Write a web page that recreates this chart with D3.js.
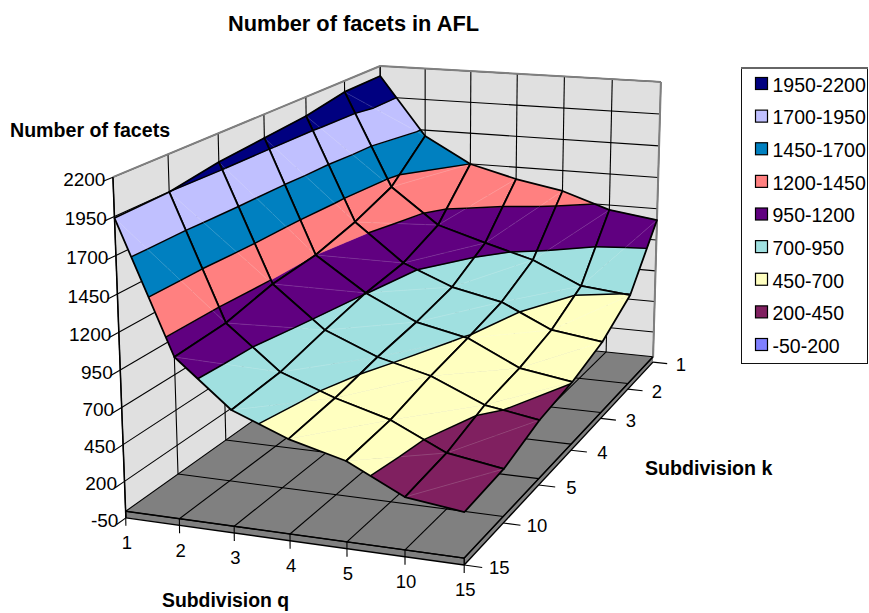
<!DOCTYPE html>
<html>
<head>
<meta charset="utf-8">
<script src="https://cdn.jsdelivr.net/npm/d3@7"></script>
<style>
  body { margin: 0; background: #fff; }
  text { font-family: "Liberation Sans", Arial, sans-serif; fill: #000; }
</style>
</head>
<body>
<div id="chartVis"></div>
<script>
// data, one array per q subdivision, values running k = 1 ... 15
const qLabels = ["1", "2", "3", "4", "5", "10", "15"];
const kLabels = ["1", "2", "3", "4", "5", "10", "15"];
const facetsQ1 = [2119, 2113, 2056, 2029, 2001, 1949, 1940];
const facetsQ2 = [1652, 1388, 1276, 1200, 1173, 1096, 1076];
const facetsQ3 = [1449, 1115, 993, 953, 881, 799, 770];
const facetsQ4 = [1354, 1004, 842, 774, 728, 663, 624];
const facetsQ5 = [1285, 902, 763, 694, 634, 557, 527];
const facetsQ10 = [1161, 731, 587, 513, 471, 378, 341];
const facetsQ15 = [1110, 695, 534, 452, 409, 317, 294];
const facets = [facetsQ1, facetsQ2, facetsQ3, facetsQ4, facetsQ5, facetsQ10, facetsQ15];

const valueTicks = [-50, 200, 450, 700, 950, 1200, 1450, 1700, 1950, 2200];
const bandColors = ["#8080ff", "#802060", "#ffffc0", "#a0e0e0", "#600080", "#ff8080", "#0080c0", "#c0c0ff", "#000080"];

const width = 869;
const height = 613;

// scales to the unit box
const uScale = d3.scalePoint().domain(d3.range(qLabels.length)).range([0, 1]);
const vScale = d3.scalePoint().domain(d3.range(kLabels.length)).range([0, 1]);
const wScale = d3.scaleLinear().domain([-50, 2200]).range([0, 1]);
const floorW = 0.02;

// perspective matrix, fitted on the corners of the box
const m = [242.632, -283.725, -13.7037, 381.598, 11.785, 68.2078, -270.584, 334.433, -0.0439845, -0.222477, -0.0322322];
function project(u, v, w) {
  const d = 1 + m[8] * u + m[9] * v + m[10] * w;
  return [(m[0] * u + m[1] * v + m[2] * w + m[3]) / d, (m[4] * u + m[5] * v + m[6] * w + m[7]) / d];
}

const svg = d3.select("#chartVis").append("svg")
  .attr("width", width)
  .attr("height", height)
  .style("display", "block");

const line = d3.line();
const closed = pts => line(pts) + "Z";

// walls and floor
const box = svg.append("g");
const faces = [
  { pts: [[0, 1, floorW], [0, 1, 1], [0, 0, 1], [0, 0, floorW]], fill: "#e0e0e0" },
  { pts: [[0, 0, floorW], [0, 0, 1], [1, 0, 1], [1, 0, floorW]], fill: "#e0e0e0" },
  { pts: [[0, 1, floorW], [1, 1, floorW], [1, 0, floorW], [0, 0, floorW]], fill: "#808080" },
  { pts: [[0, 1, floorW], [1, 1, floorW], [1, 1, 0], [0, 1, 0]], fill: "#808080" },
  { pts: [[1, 1, floorW], [1, 0, floorW], [1, 0, 0], [1, 1, 0]], fill: "#808080" }
];
box.selectAll("path.face").data(faces).enter().append("path")
  .attr("class", "face")
  .attr("d", d => closed(d.pts.map(p => project(...p))))
  .attr("fill", d => d.fill);

function seg(a, b, stroke, sw) {
  box.append("path")
    .attr("d", line([project(...a), project(...b)]))
    .attr("fill", "none")
    .attr("stroke", stroke)
    .attr("stroke-width", sw);
}

// grid lines
for (const val of valueTicks.slice(1)) {
  const w = wScale(val);
  seg([0, 1, w], [0, 0, w], "#000", 1.1);
  seg([0, 0, w], [1, 0, w], "#000", 1.1);
}
uScale.domain().forEach(i => {
  const u = uScale(i);
  seg([u, 0, floorW], [u, 0, 1], "#000", 1.1);
  seg([u, 0, floorW], [u, 1, floorW], "#000", 1.1);
});
vScale.domain().forEach(j => {
  const v = vScale(j);
  seg([0, v, floorW], [0, v, 1], "#000", 1.1);
  seg([0, v, floorW], [1, v, floorW], "#000", 1.1);
});

// grey outline of walls
seg([0, 1, 1], [0, 0, 1], "#808080", 2);
seg([0, 0, 1], [1, 0, 1], "#808080", 2);
seg([1, 0, 1], [1, 0, floorW], "#808080", 2);
seg([0, 1, 1], [0, 1, 0], "#000", 1.5);

// slab edges
seg([0, 1, floorW], [1, 1, floorW], "#000", 1.4);
seg([0, 1, 0], [1, 1, 0], "#000", 1.4);
seg([1, 1, floorW], [1, 0, floorW], "#000", 1.4);
seg([1, 1, 0], [1, 0, 0], "#000", 1.4);
seg([0, 1, 0], [0, 1, floorW], "#000", 1);
seg([1, 1, 0], [1, 1, floorW], "#000", 1);

// ticks
for (const val of valueTicks) {
  seg([0, 1, wScale(val)], [0, 1.028, wScale(val)], "#000", 1.1);
}
uScale.domain().forEach(i => {
  const top = project(uScale(i), 1, floorW);
  const bot = project(uScale(i), 1, 0);
  box.append("path").attr("d", line([top, [bot[0], bot[1] + 8]])).attr("stroke", "#000").attr("stroke-width", 1.1).attr("fill", "none");
});
vScale.domain().forEach(j => {
  seg([1, vScale(j), 0], [1.05, vScale(j), 0], "#000", 1.1);
});

// surface, triangles split at the band limits
function vertex(i, j) {
  return { u: uScale(i), v: vScale(j), val: facets[i][j] };
}
function mix(a, b, val) {
  const t = (val - a.val) / (b.val - a.val);
  return { u: a.u + t * (b.u - a.u), v: a.v + t * (b.v - a.v), val: val };
}
function clipAbove(poly, val, sign) {
  const out = [];
  poly.forEach((p, n) => {
    const q = poly[(n + 1) % poly.length];
    const pIn = sign * (p.val - val) >= 0;
    const qIn = sign * (q.val - val) >= 0;
    if (pIn) out.push(p);
    if (pIn !== qIn) out.push(mix(p, q, val));
  });
  return out;
}
const toScreen = p => project(p.u, p.v, wScale(p.val));

const cells = [];
for (let i = 0; i < qLabels.length - 1; i++) {
  for (let j = 0; j < kLabels.length - 1; j++) {
    cells.push({ i, j });
  }
}

const surface = svg.append("g");
cells.forEach(({ i, j }) => {
  const a = vertex(i, j), b = vertex(i + 1, j), c = vertex(i + 1, j + 1), d = vertex(i, j + 1);
  const g = surface.append("g");
  [[a, b, d], [b, c, d]].forEach(tri => {
    bandColors.forEach((color, n) => {
      let poly = clipAbove(tri, valueTicks[n], 1);
      if (poly.length) poly = clipAbove(poly, valueTicks[n + 1], -1);
      if (poly.length < 3) return;
      g.append("path")
        .attr("d", closed(poly.map(toScreen)))
        .attr("fill", color)
        .attr("stroke", color)
        .attr("stroke-width", 0.5);
    });
  });
  // faint seam on the diagonal
  g.append("path")
    .attr("d", line([b, d].map(toScreen)))
    .attr("stroke", "#fff")
    .attr("stroke-opacity", 0.18)
    .attr("stroke-width", 0.8)
    .attr("fill", "none");
  // band boundaries
  [[a, b, d], [b, c, d]].forEach(tri => {
    valueTicks.forEach(val => {
      const hits = [];
      tri.forEach((p, n) => {
        const q = tri[(n + 1) % 3];
        if ((p.val - val) * (q.val - val) < 0) hits.push(mix(p, q, val));
      });
      if (hits.length === 2) {
        g.append("path")
          .attr("d", line(hits.map(toScreen)))
          .attr("stroke", "#000")
          .attr("stroke-width", 1.5)
          .attr("fill", "none");
      }
    });
  });
  // cell outline
  g.append("path")
    .attr("d", closed([a, b, c, d].map(toScreen)))
    .attr("stroke", "#000")
    .attr("stroke-width", 1.8)
    .attr("stroke-linejoin", "round")
    .attr("fill", "none");
});

// tick labels
const labels = svg.append("g").attr("font-size", 18.5);
for (const val of valueTicks) {
  const p = project(0, 1, wScale(val));
  labels.append("text")
    .attr("x", p[0] - 7.5)
    .attr("y", p[1] + 2)
    .attr("dy", "0.35em")
    .attr("text-anchor", "end")
    .attr("font-size", 19)
    .text(val);
}
qLabels.forEach((lab, i) => {
  const p = project(uScale(i), 1, 0);
  labels.append("text")
    .attr("x", p[0] + 1)
    .attr("y", p[1] + 25)
    .attr("dy", "0.35em")
    .attr("text-anchor", "middle")
    .text(lab);
});
kLabels.forEach((lab, j) => {
  const p = project(1, vScale(j), 0);
  labels.append("text")
    .attr("x", p[0] + 28 + 7 * vScale(j))
    .attr("y", p[1] + 2 + vScale(j))
    .attr("dy", "0.35em")
    .attr("text-anchor", "middle")
    .text(lab);
});

// titles
const bold = svg.append("g").attr("font-weight", "bold").attr("font-size", 19.6);
bold.append("text").attr("x", 353.5).attr("y", 31).attr("text-anchor", "middle").attr("font-size", 21.8).text("Number of facets in AFL");
bold.append("text").attr("x", 10).attr("y", 137).text("Number of facets");
bold.append("text").attr("x", 645).attr("y", 475).text("Subdivision k");
bold.append("text").attr("x", 162).attr("y", 607).attr("font-size", 19.4).text("Subdivision q");

// legend
const legend = svg.append("g");
legend.append("rect")
  .attr("x", 741.5)
  .attr("y", 67.5)
  .attr("width", 126)
  .attr("height", 296)
  .attr("fill", "#fff")
  .attr("stroke", "#111");
legend.append("path")
  .attr("d", line([[741, 68], [868, 68]]))
  .attr("stroke", "#666")
  .attr("stroke-width", 2);
const legendRows = bandColors.map((c, n) => ({ color: c, label: valueTicks[n] + "-" + valueTicks[n + 1] })).reverse();
const rowScale = d3.scalePoint().domain(d3.range(legendRows.length)).range([83.5, 344.5]);
const row = legend.selectAll("g.row").data(legendRows).enter().append("g")
  .attr("class", "row")
  .attr("transform", (d, n) => "translate(0," + rowScale(n) + ")");
row.append("rect")
  .attr("x", 755.5)
  .attr("y", -6)
  .attr("width", 12)
  .attr("height", 12)
  .attr("fill", d => d.color)
  .attr("stroke", "#000")
  .attr("stroke-width", 1.2);
row.append("text")
  .attr("x", 772.5)
  .attr("y", 1.5)
  .attr("dy", "0.35em")
  .attr("font-size", 19.5)
  .text(d => d.label);
</script>
</body>
</html>
